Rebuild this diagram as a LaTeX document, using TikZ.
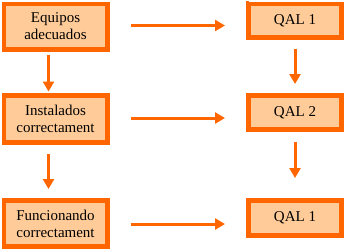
\documentclass[tikz,border=0pt]{standalone}
\usepackage{fontspec}
\setmainfont{Liberation Serif}
\usetikzlibrary{arrows.meta}
\definecolor{org}{HTML}{FF6600}
\definecolor{peach}{HTML}{FFCC99}
\tikzset{
  box/.style={draw=org, fill=peach, line width=5pt, inner sep=0pt, align=center,
    font=\fontsize{15}{17}\selectfont, text=black},
  hl/.style={draw=white, line width=0.9pt},
  arr/.style={draw=org, line width=3pt, -{Triangle[length=10pt,width=11pt]}},
}
\begin{document}
\begin{tikzpicture}[x=1pt,y=-1pt]
\useasboundingbox (0,0) rectangle (344,250);
% left column
\node[box, minimum width=104pt, minimum height=46pt] (b1) at (55.5,26.5) {Equipos\\adecuados};
\node[box, minimum width=104pt, minimum height=47pt] (b2) at (55.5,119) {Instalados\\correctament};
\node[box, minimum width=104pt, minimum height=46pt] (b3) at (55.5,223.5) {Funcionando\\correctament};
% right column
\node[box, minimum width=93pt, minimum height=34pt] (q1) at (295,20.5) {QAL 1};
\node[box, minimum width=93pt, minimum height=34pt] (q2) at (295,112.5) {QAL 2};
\node[box, minimum width=93pt, minimum height=35pt] (q3) at (295,218) {QAL 1};
% white highlight lines
\draw[hl] (b1.south west) -- (b1.north west) -- (b1.north east);
\draw[hl] (b2.south west) -- (b2.north west);
\draw[hl] (b3.north west) -- (b3.south west) -- (b3.south east);
\draw[hl] ([xshift=2.5pt]q1.north west) -- ([xshift=2.5pt]q1.north east);
\draw[hl] ([xshift=2.5pt]q1.south west) -- ([xshift=2.5pt]q1.south east);
% arrow endpoints
\coordinate (h1s) at (131,25.5); \coordinate (h1e) at (225,25.5);
\coordinate (h2s) at (131,118);  \coordinate (h2e) at (225,118);
\coordinate (h3s) at (131,224);  \coordinate (h3e) at (225,224);
\coordinate (v1s) at (48.5,55);  \coordinate (v1e) at (48.5,91.5);
\coordinate (v2s) at (48.5,154); \coordinate (v2e) at (48.5,189);
\coordinate (v3s) at (295,49);   \coordinate (v3e) at (295,84);
\coordinate (v4s) at (295,142);  \coordinate (v4e) at (295,178);
\draw[arr] (h1s) -- (h1e);
\draw[arr] (h2s) -- (h2e);
\draw[arr] (h3s) -- (h3e);
\draw[arr] (v1s) -- (v1e);
\draw[arr] (v2s) -- (v2e);
\draw[arr] (v3s) -- (v3e);
\draw[arr] (v4s) -- (v4e);
\end{tikzpicture}
\end{document}
